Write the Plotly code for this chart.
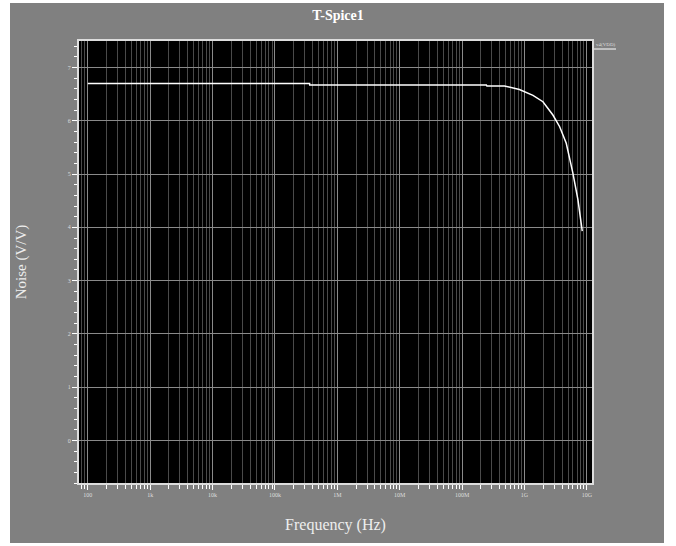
import plotly.graph_objects as go

freq_hz = [100, 3.6e5, 3.61e5, 2.45e8, 2.5e8, 4.8e8, 8.3e8, 1.37e9, 1.98e9,
           2.86e9, 3.67e9, 4.68e9, 5.98e9, 7.2e9, 8.45e9]
noise = [6.70, 6.70, 6.675, 6.675, 6.656, 6.656, 6.59, 6.48, 6.36,
         6.11, 5.89, 5.58, 5.02, 4.52, 3.93]

x_tickvals = [1e2, 1e3, 1e4, 1e5, 1e6, 1e7, 1e8, 1e9, 1e10]
x_ticktext = ["100", "1k", "10k", "100k", "1M", "10M", "100M", "1G", "10G"]
y_tickvals = [0, 1, 2, 3, 4, 5, 6, 7]

SERIF = "Liberation Serif, Times New Roman, serif"

fig = go.Figure()
fig.add_trace(go.Scatter(x=freq_hz, y=noise, mode="lines",
                         line=dict(color="white", width=1.5),
                         name="v4(VDD)", showlegend=False))

fig.update_layout(
    width=676, height=546,
    margin=dict(l=79, r=84, t=41, b=63),
    paper_bgcolor="white",
    plot_bgcolor="black",
    title=dict(text="<b>T-Spice1</b>", x=0.5, xanchor="center", y=0.972, yanchor="middle",
               font=dict(family=SERIF, size=14, color="white")),
    font=dict(family=SERIF, color="#dddddd"),
)

fig.update_xaxes(
    type="log", range=[1.859, 10.083],
    tickvals=x_tickvals, ticktext=x_ticktext,
    tickfont=dict(size=6, color="#dddddd", family=SERIF),
    ticks="outside", ticklen=5, tickcolor="white", tickwidth=1,
    showgrid=True, gridcolor="#8a8a8a", gridwidth=1,
    minor=dict(dtick="D1", ticks="outside", ticklen=4, tickcolor="white",
               showgrid=True, gridcolor="#4a4a4a", gridwidth=1),
    showline=True, linecolor="#dddddd", linewidth=2, mirror=True,
    zeroline=False,
    title=dict(text="Frequency (Hz)", font=dict(family=SERIF, size=16, color="#eeeeee"),
               standoff=22),
)
fig.update_yaxes(
    range=[-0.8, 7.5],
    tickvals=y_tickvals,
    tickfont=dict(size=6, color="#dddddd", family=SERIF),
    ticks="outside", ticklen=5, tickcolor="white", tickwidth=1,
    showgrid=True, gridcolor="#8a8a8a", gridwidth=1,
    minor=dict(dtick=0.2, ticks="outside", ticklen=3, tickcolor="white", showgrid=False),
    showline=True, linecolor="#dddddd", linewidth=2, mirror=True,
    zeroline=False,
    title=dict(text="Noise (V/V)", font=dict(family=SERIF, size=15, color="#eeeeee"),
               standoff=38),
)

pw = 676 - 79 - 84
ph = 546 - 41 - 63
def px_to_paper_x(px):
    return (px - 79) / pw
def px_to_paper_y(py):
    return (546 - 63 - py) / ph

# gray panel background behind everything
fig.add_shape(type="rect", xref="paper", yref="paper", layer="below",
              x0=px_to_paper_x(10), x1=px_to_paper_x(664),
              y0=px_to_paper_y(543), y1=px_to_paper_y(3),
              fillcolor="#808080", line=dict(width=0))
# black plotting area on top of the gray panel
fig.add_shape(type="rect", xref="paper", yref="paper", layer="below",
              x0=0, x1=1, y0=0, y1=1,
              fillcolor="black", line=dict(width=0))

# legend-like label with underline at top right
fig.add_annotation(xref="paper", yref="paper", x=px_to_paper_x(594), y=px_to_paper_y(45),
                   xanchor="left", yanchor="middle", text="v4(VDD)", showarrow=False,
                   font=dict(family=SERIF, size=5, color="#dddddd"))
fig.add_shape(type="line", xref="paper", yref="paper",
              x0=px_to_paper_x(594), x1=px_to_paper_x(616),
              y0=px_to_paper_y(49), y1=px_to_paper_y(49),
              line=dict(color="white", width=1))

fig.write_html("out.html")
